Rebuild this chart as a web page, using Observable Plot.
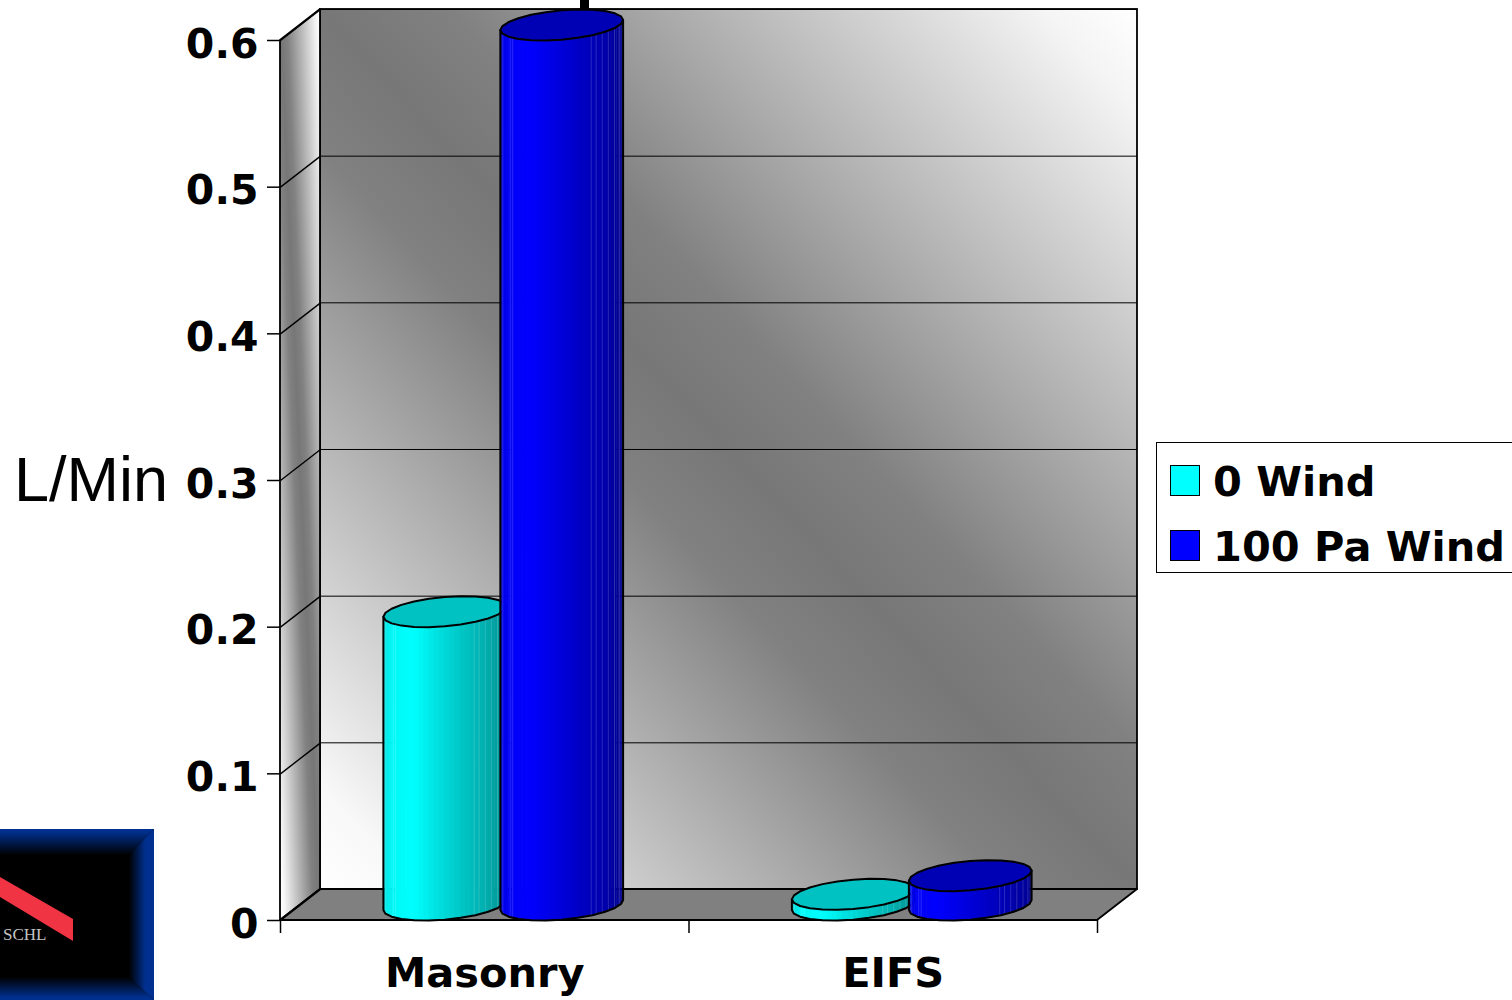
<!DOCTYPE html>
<html>
<head>
<meta charset="utf-8">
<script src="https://cdn.jsdelivr.net/npm/d3@7"></script>
<script src="https://cdn.jsdelivr.net/npm/@observablehq/plot@0.6"></script>
<style>
  html, body { margin: 0; padding: 0; background: #fff; overflow: hidden; width: 1512px; height: 1000px; }
  #stage { position: relative; width: 1512px; height: 1000px; overflow: hidden; }
  #stage svg { position: absolute; left: 0; top: 0; }
  .txt { position: absolute; white-space: nowrap; color: #000; line-height: 1; }
  .bold { font: bold 41.5px "DejaVu Sans", sans-serif; }
  #yTitle { left: 14px; top: 443px; font: 400 63px "Liberation Sans", sans-serif; }
  #titleStub { position: absolute; left: 580px; top: 0; width: 9px; height: 9px; background: #000; }
  #legend { position: absolute; left: 1156px; top: 442px; width: 400px; height: 129px; border: 1.5px solid #000; background: #fff; }
  .swatch { position: absolute; left: 1170px; width: 28px; height: 29px; border: 1.5px solid #000; }
</style>
</head>
<body>
<div id="stage"></div>
<script>
// Water penetration rate by wall type, with and without wind pressure
const categories = ["Masonry", "EIFS"];
const seriesNames = ["0 Wind", "100 Pa Wind"];
const noWind = [0.2, 0.0073];
const withWind = [0.6, 0.02];
const seriesColors = ["#00ffff", "#0000ff"];
const topColors = ["#00c2c2", "#0000b4"];
const yTicks = [0, 0.1, 0.2, 0.3, 0.4, 0.5, 0.6];
const xTicks = [0, 1, 2];

// Depth of the chart box, in scale units
const DX = 0.0979;
const DY = 0.02114;
// One pixel along each scale, used for tick lengths and small nudges
const PX = 1 / 408.5;
const PY = 0.6 / 880;
// Cylinder half-width and offset from the category centre, in scale units
const RX = 0.142;
const OFFSET = 0.1432;
const NUDGE = -1.5 * PX;
const FACETS = 24;
const BANDS = 3;
// Where the faint seams sit across a cylinder's width (0 = left edge, 1 = right edge)
const seamStops = [0.02, 0.08, 0.1, 0.74, 0.78, 0.83, 0.88, 0.93, 0.97];

const shade = (rgb, k) => {
  const c = d3.rgb(rgb);
  return d3.rgb(c.r * k, c.g * k, c.b * k).formatHex();
};
const profile = d3.scaleLinear()
  .domain([0, 0.08, 0.25, 0.5, 0.8, 1])
  .range([0.88, 0.97, 1, 0.85, 0.7, 0.58]);

// Builds the band, seam, outline and lid tables of one cylinder from its value
function cylinder(cat, s, value) {
  const cx = cat + 0.5 + (s ? OFFSET : -OFFSET) + DX / 2 + NUDGE;
  const t0 = Math.atan2(DX / 2, RX);
  const R = Math.hypot(DX / 2, RX);
  const px = (t) => cx + RX * Math.cos(t) + (DX / 2) * Math.sin(t);
  const ov = (t) => DY / 2 + (DY / 2) * Math.sin(t);
  const step = (2 * Math.PI) / FACETS;
  const faces = [], side = [], lid = [], seams = [];
  const start = Math.PI + t0;
  const count = FACETS / 2;
  for (let i = 0; i <= FACETS; i++) {
    const t = start + i * step;
    lid.push({ x: px(t), y: value + ov(t) });
  }
  side.push({ x: px(start), y: value + ov(start) });
  for (let i = 0; i <= count; i++) {
    const t = start + i * step;
    side.push({ x: px(t), y: ov(t) });
    if (i < count) {
      const t2 = t + step;
      const xAt = (f) => px(t) + (px(t2) - px(t)) * f;
      const oAt = (f) => ov(t) + (ov(t2) - ov(t)) * f;
      // Each facet is split into flat bands; a band runs slightly under its neighbour
      for (let j = 0; j < BANDS; j++) {
        const a = j / BANDS;
        const b = (j + 1) / BANDS + (i < count - 1 || j < BANDS - 1 ? 0.05 : 0);
        const u = ((xAt(a) + xAt(b)) / 2 - (cx - R)) / (2 * R);
        const color = shade(seriesColors[s], profile(u));
        const id = i * BANDS + j;
        faces.push({ id, x: xAt(a), y1: oAt(a), y2: value + oAt(a), color });
        faces.push({ id, x: xAt(b), y1: oAt(b), y2: value + oAt(b), color });
      }
    }
  }
  const end = start + count * step;
  side.push({ x: px(end), y: value + ov(end) });
  for (const u of seamStops) {
    const t = t0 + 2 * Math.PI - Math.acos(2 * u - 1);
    seams.push({ x: px(t), y1: ov(t), y2: value + ov(t) });
  }
  return { faces, side, lid, seams };
}

const cylinderMarks = [];
[noWind, withWind].forEach((values, s) => {
  values.forEach((value, cat) => {
    const c = cylinder(cat, s, value);
    cylinderMarks.push(
      Plot.area(c.faces, { x1: "x", y1: "y1", x2: "x", y2: "y2", z: "id", fill: "color" }),
      Plot.ruleX(c.seams, { x: "x", y1: "y1", y2: "y2", stroke: "#fff", strokeOpacity: 0.16, strokeWidth: 1 }),
      Plot.line(c.side, { x: "x", y: "y", stroke: "#000", strokeWidth: 2 }),
      Plot.line(c.lid, { x: "x", y: "y", fill: topColors[s], stroke: "#000", strokeWidth: 2 })
    );
  });
});

const chart = Plot.plot({
  width: 1512,
  height: 1000,
  marginLeft: 280,
  marginRight: 415,
  marginTop: 40,
  marginBottom: 80,
  x: { domain: [0, 2], axis: null },
  y: { domain: [0, 0.6], axis: null },
  color: { type: "identity" },
  style: { background: "transparent", color: "#000", overflow: "visible" },
  marks: [
    // Box: back wall, side wall, floor
    Plot.rect([0], {
      x1: DX, x2: 2 + DX, y1: DY, y2: 0.6 + DY,
      fill: "url(#wallShade)", stroke: "#000", strokeWidth: 1.8
    }),
    Plot.area([0, 0.6], {
      x1: () => 0, y1: (d) => d, x2: () => DX, y2: (d) => d + DY,
      fill: "url(#wallShade)", stroke: "#000", strokeWidth: 1.8
    }),
    Plot.area([0, 2], {
      x1: (d) => d, y1: () => 0, x2: (d) => d + DX, y2: () => DY,
      fill: "#808080", stroke: "#000", strokeWidth: 1.8
    }),
    // Gridlines across the back wall and down the side wall
    Plot.ruleY(yTicks, { y: (d) => d + DY, x1: DX, x2: 2 + DX, stroke: "#000", strokeWidth: 1 }),
    Plot.link(yTicks, { x1: () => 0, y1: (d) => d, x2: () => DX, y2: (d) => d + DY, stroke: "#000", strokeWidth: 1.4 }),
    ...cylinderMarks,
    // Tick lines
    Plot.ruleY(yTicks, { y: (d) => d, x1: -13 * PX, x2: 0, stroke: "#000", strokeWidth: 1.5 }),
    Plot.ruleX(xTicks, { x: (d) => d, y1: 0, y2: -13 * PY, stroke: "#000", strokeWidth: 1.5 }),
    // Tick labels
    Plot.axisY({
      ticks: yTicks, tickFormat: (d) => String(d), tickSize: 0, tickPadding: 22, dy: 4,
      fontSize: 41, fontWeight: "bold", fontFamily: "DejaVu Sans", label: null
    }),
    Plot.axisX({
      ticks: [0.5, 1.5], tickSize: 0, tickPadding: 53, tickFormat: (d) => categories[Math.floor(d)],
      fontSize: 41.5, fontWeight: "bold", fontFamily: "DejaVu Sans", label: null, lineAnchor: "middle"
    })
  ]
});

// Shared diagonal shading of the walls
const defs = d3.select(chart).insert("defs", ":first-child");
const wall = defs.append("linearGradient").attr("id", "wallShade")
  .attr("x1", 0).attr("y1", 1).attr("x2", 1).attr("y2", 0);
[[0, "#ffffff"], [0.06, "#f8f8f8"], [0.42, "#818181"], [0.5, "#777777"], [0.58, "#818181"], [0.94, "#f4f4f4"], [1, "#ffffff"]]
  .forEach(([offset, color]) => wall.append("stop").attr("offset", offset).attr("stop-color", color));

const stage = document.getElementById("stage");
stage.append(chart);

// Side furniture around the chart: axis title, title stub, legend, organisation badge
stage.insertAdjacentHTML("beforeend", `
  <div id="titleStub"></div>
  <div id="yTitle" class="txt">L/Min</div>
  <div id="legend"></div>
  <div class="swatch" style="top:465px;background:${seriesColors[0]}"></div>
  <div class="swatch" style="top:530px;background:${seriesColors[1]}"></div>
  <div class="txt bold" style="left:1213px;top:457px">${seriesNames[0]}</div>
  <div class="txt bold" style="left:1213px;top:522px">${seriesNames[1]}</div>
  <svg width="154" height="171" style="left:0;top:829px" xmlns="http://www.w3.org/2000/svg">
    <defs>
      <linearGradient id="bTop" x1="0" y1="0" x2="0" y2="1"><stop offset="0.1" stop-color="#00308f"/><stop offset="1" stop-color="#000"/></linearGradient>
      <linearGradient id="bBottom" x1="0" y1="1" x2="0" y2="0"><stop offset="0.1" stop-color="#00308f"/><stop offset="1" stop-color="#000"/></linearGradient>
      <linearGradient id="bRight" x1="1" y1="0" x2="0" y2="0"><stop offset="0.35" stop-color="#00308f"/><stop offset="1" stop-color="#000"/></linearGradient>
    </defs>
    <rect width="154" height="171" fill="#000"/>
    <polygon points="0,0 154,0 129,26 0,26" fill="url(#bTop)"/>
    <polygon points="0,171 154,171 129,148 0,148" fill="url(#bBottom)"/>
    <polygon points="154,0 154,171 129,148 129,26" fill="url(#bRight)"/>
    <polygon points="0,48 73,90 73,112 0,68" fill="#f03444"/>
    <text x="3" y="111" font-family="Liberation Serif" font-size="17" fill="#c4c4c4">SCHL</text>
  </svg>`);
</script>
</body>
</html>
